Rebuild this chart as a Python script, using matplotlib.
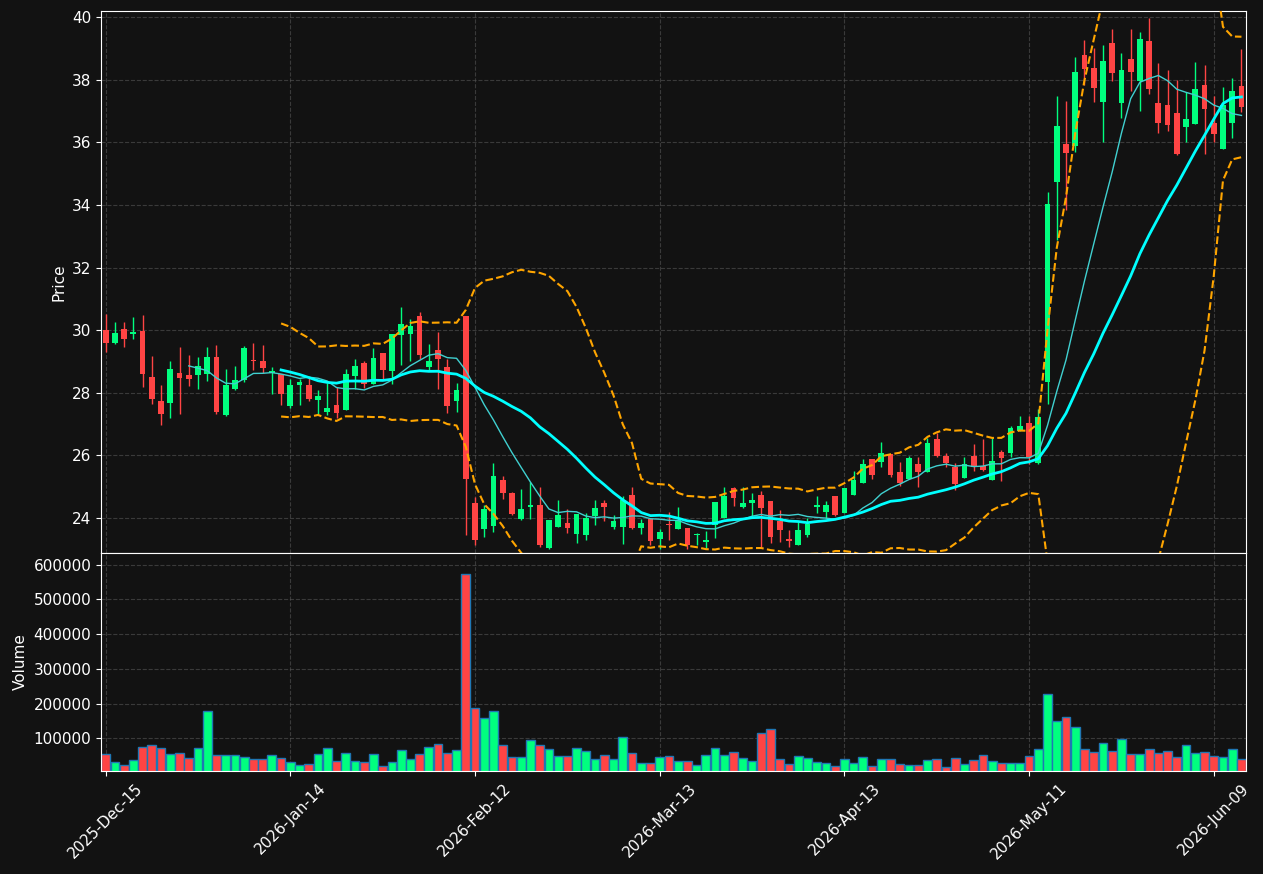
import numpy as np
import pandas as pd
import matplotlib
matplotlib.use('Agg')
import matplotlib.pyplot as plt
from matplotlib.ticker import FixedLocator, FuncFormatter

# OHLC + volume (one entry per trading day)
opens = [30.00, 29.60, 30.03, 29.89, 29.97, 28.49, 27.74, 27.68, 28.63, 28.57,
         28.58, 28.61, 29.14, 27.30, 28.13, 28.41, 29.05, 29.02, 28.62, 28.59,
         27.59, 28.25, 28.25, 27.78, 27.40, 27.61, 27.46, 28.54, 28.95, 28.29,
         29.27, 28.68, 29.86, 29.89, 30.45, 28.82, 29.37, 28.82, 27.74, 30.45,
         24.47, 23.65, 23.74, 25.20, 24.80, 23.95, 24.35, 24.42, 23.03, 23.72,
         23.84, 23.48, 23.46, 24.07, 24.47, 23.71, 23.71, 24.73, 23.69, 23.97,
         23.34, 23.81, 23.66, 23.68, 23.44, 23.23, 23.76, 24.01, 24.96, 24.35,
         24.49, 24.72, 24.54, 23.91, 23.33, 23.14, 23.46, 24.35, 24.20, 24.70,
         24.17, 24.73, 25.13, 25.88, 25.80, 26.04, 25.47, 25.26, 25.73, 25.48,
         26.51, 25.98, 25.62, 25.29, 25.98, 25.66, 25.21, 26.11, 26.09, 26.78,
         27.04, 25.75, 28.36, 34.75, 35.95, 35.90, 38.79, 38.38, 37.30, 39.17,
         37.27, 38.66, 37.96, 39.24, 37.26, 37.19, 36.94, 36.50, 36.60, 37.83,
         36.62, 35.80, 36.63, 37.80]
highs = [30.51, 30.25, 30.25, 30.41, 30.47, 29.17, 28.24, 29.01, 29.45, 29.20,
         29.13, 29.45, 29.52, 28.75, 28.85, 29.48, 29.58, 29.53, 28.81, 28.60,
         28.45, 28.43, 28.46, 28.09, 28.32, 28.20, 28.75, 29.07, 29.02, 29.42,
         29.27, 29.88, 30.73, 30.35, 30.57, 29.55, 29.93, 29.07, 28.30, 30.45,
         24.66, 24.42, 25.75, 25.34, 24.82, 24.92, 25.15, 25.00, 23.94, 24.56,
         24.30, 24.13, 24.17, 24.56, 24.58, 24.09, 24.71, 24.98, 23.96, 23.97,
         23.66, 24.20, 24.36, 23.68, 23.53, 23.58, 24.51, 24.98, 24.98, 24.98,
         24.79, 24.86, 24.54, 24.26, 23.60, 23.88, 24.01, 24.70, 24.54, 24.70,
         24.97, 25.51, 25.87, 25.88, 26.43, 26.04, 25.79, 25.98, 25.96, 26.55,
         26.71, 26.07, 25.77, 25.96, 26.35, 26.53, 26.57, 26.17, 26.94, 27.26,
         27.26, 27.47, 34.43, 37.48, 37.33, 38.74, 39.27, 39.01, 39.11, 39.64,
         38.85, 39.64, 39.52, 39.99, 38.53, 38.30, 38.00, 37.60, 38.58, 38.49,
         37.49, 37.76, 38.05, 38.98]
lows = [29.31, 29.56, 29.45, 29.71, 28.20, 27.63, 26.98, 27.18, 27.33, 28.23,
        28.11, 28.39, 27.31, 27.25, 28.09, 28.36, 28.72, 28.64, 27.95, 27.61,
        27.50, 27.61, 27.75, 27.32, 27.29, 27.18, 27.45, 28.11, 28.14, 28.28,
        28.43, 28.27, 28.88, 29.03, 29.08, 28.72, 28.13, 27.34, 27.40, 23.44,
        23.14, 23.38, 23.56, 24.60, 24.10, 23.94, 23.96, 23.06, 23.00, 23.70,
        23.51, 23.21, 23.30, 23.79, 23.89, 23.64, 23.16, 23.65, 23.48, 23.14,
        23.02, 23.30, 23.65, 23.00, 23.14, 23.05, 23.35, 24.00, 24.39, 24.33,
        24.07, 23.08, 23.19, 23.24, 23.06, 23.14, 23.40, 24.17, 24.00, 24.06,
        24.15, 24.73, 25.11, 25.25, 25.64, 25.32, 25.02, 25.24, 25.00, 25.48,
        25.96, 25.62, 24.89, 25.29, 25.51, 25.50, 25.21, 25.19, 25.94, 26.78,
        25.73, 25.73, 27.63, 32.88, 33.84, 35.70, 37.83, 37.30, 36.02, 37.96,
        36.77, 37.65, 37.02, 37.54, 36.31, 36.37, 35.60, 36.00, 36.60, 35.62,
        36.00, 35.80, 36.13, 36.98]
closes = [29.60, 29.91, 29.73, 29.94, 28.61, 27.81, 27.32, 28.76, 28.47, 28.44,
          28.86, 29.14, 27.40, 28.25, 28.41, 29.43, 29.02, 28.80, 28.70, 27.97,
          28.25, 28.35, 27.81, 27.90, 27.52, 27.35, 28.60, 28.86, 28.29, 29.11,
          28.72, 29.88, 30.20, 30.13, 29.21, 29.02, 29.08, 27.58, 28.09, 25.25,
          23.30, 24.29, 25.34, 24.81, 24.11, 24.29, 24.40, 23.14, 23.94, 24.10,
          23.69, 24.13, 23.99, 24.31, 24.35, 23.90, 24.58, 23.68, 23.84, 23.27,
          23.55, 23.78, 23.94, 23.14, 23.49, 23.30, 24.51, 24.70, 24.65, 24.47,
          24.58, 24.33, 23.40, 23.62, 23.27, 23.62, 23.81, 24.42, 24.42, 24.10,
          24.97, 25.21, 25.73, 25.37, 26.09, 25.37, 25.11, 25.91, 25.47, 26.39,
          25.99, 25.75, 25.09, 25.71, 25.62, 25.53, 25.82, 25.92, 26.88, 26.94,
          25.94, 27.22, 34.03, 36.52, 35.67, 38.25, 38.36, 37.74, 38.60, 38.23,
          38.31, 38.26, 39.30, 37.72, 36.63, 36.57, 35.64, 36.75, 37.71, 37.08,
          36.28, 37.19, 37.64, 37.14]
volumes = [53700, 30700, 22100, 36500, 73900, 79700, 71000, 53700, 56600, 42200,
           71000, 177500, 50900, 50900, 50900, 45100, 39300, 39300, 50900, 42200,
           30700, 22100, 25000, 53700, 71000, 33600, 56600, 33600, 30700, 53700,
           19200, 30700, 65300, 39300, 53700, 73900, 82500, 56600, 65300, 572000,
           186200, 157400, 177500, 79700, 45100, 45100, 94100, 79700, 68100, 48000,
           48000, 71000, 62400, 39300, 50900, 39300, 102700, 56600, 27800, 27800,
           45100, 48000, 33600, 33600, 22100, 50900, 71000, 50900, 59500, 42200,
           33600, 114200, 125700, 39300, 25000, 48000, 42200, 30700, 27800, 19200,
           39300, 27800, 45100, 19200, 39300, 39300, 25000, 22100, 22100, 36500,
           39300, 16300, 42200, 25000, 36500, 50900, 33600, 27800, 27800, 27800,
           48000, 68100, 226500, 148800, 160300, 131500, 68100, 59500, 85400, 62400,
           96900, 53700, 53700, 68100, 56600, 62400, 45100, 79700, 56600, 59500,
           48000, 45100, 68100, 39300]

holidays = ['2025-12-25', '2026-01-01', '2026-01-19', '2026-02-16', '2026-04-03', '2026-05-25']
dates = pd.date_range('2025-12-15', periods=len(closes),
                      freq=pd.offsets.CustomBusinessDay(holidays=holidays))

# indicators
close_s = pd.Series(closes)
ma10 = close_s.rolling(10).mean()
ma20 = close_s.rolling(20).mean()
std20 = close_s.rolling(20).std(ddof=0)
upper = ma20 + 2 * std20
lower = ma20 - 2 * std20

bg = '#121212'
up_col = '#00ff7f'
dn_col = '#ff4444'

fig = plt.figure(figsize=(12.63, 8.74), dpi=100, facecolor=bg)
ax = fig.add_axes([0.0800, 0.3673, 0.9066, 0.6201])
axv = fig.add_axes([0.0800, 0.1178, 0.9066, 0.2494], sharex=ax)

def style(a):
    a.set_facecolor(bg)
    a.tick_params(colors='white', labelsize=11)
    a.grid(True, color='#555555', linestyle='--', linewidth=0.8, alpha=0.6)
    a.set_axisbelow(True)
    for s in a.spines.values():
        s.set_color('white')

style(ax)
style(axv)

x = np.arange(len(closes))
cols = [up_col if c >= o else dn_col for o, c in zip(opens, closes)]

# candles
for i in range(len(closes)):
    o, h, l, c = opens[i], highs[i], lows[i], closes[i]
    ax.vlines(x[i], l, h, color=cols[i], linewidth=1, zorder=2)
    body = max(abs(c - o), 0.03)
    ax.bar(x[i], body, bottom=min(o, c), width=0.62, color=cols[i], zorder=3)

# moving averages and bands
ax.plot(x, ma10, color='#40d0d0', linewidth=1, zorder=4)
ax.plot(x, ma20, color='cyan', linewidth=2, zorder=4)
ax.plot(x, upper, color='orange', linestyle='--', linewidth=1.5, zorder=4)
ax.plot(x, lower, color='orange', linestyle='--', linewidth=1.5, zorder=4)

ax.set_xlim(-0.5, 123.5)
ax.set_ylim(22.88, 40.2)
ax.set_yticks(np.arange(24, 41, 2))
ax.set_ylabel('Price', color='white', fontsize=11)
ax.tick_params(axis='x', labelbottom=False, length=0)

# volume
axv.bar(x, volumes, width=0.95, color=cols, edgecolor='#1f77b4', linewidth=1)
axv.set_ylim(5800, 633000)
axv.set_yticks(np.arange(100000, 600001, 100000))
axv.yaxis.set_major_formatter(FuncFormatter(lambda v, p: f'{int(v)}'))
axv.set_ylabel('Volume', color='white', fontsize=11)

tick_pos = list(range(0, len(closes), 20))
axv.xaxis.set_major_locator(FixedLocator(tick_pos))
axv.set_xticklabels([dates[i].strftime('%Y-%b-%d') for i in tick_pos], rotation=45)

fig.savefig('out.png', dpi=100, facecolor=bg)
